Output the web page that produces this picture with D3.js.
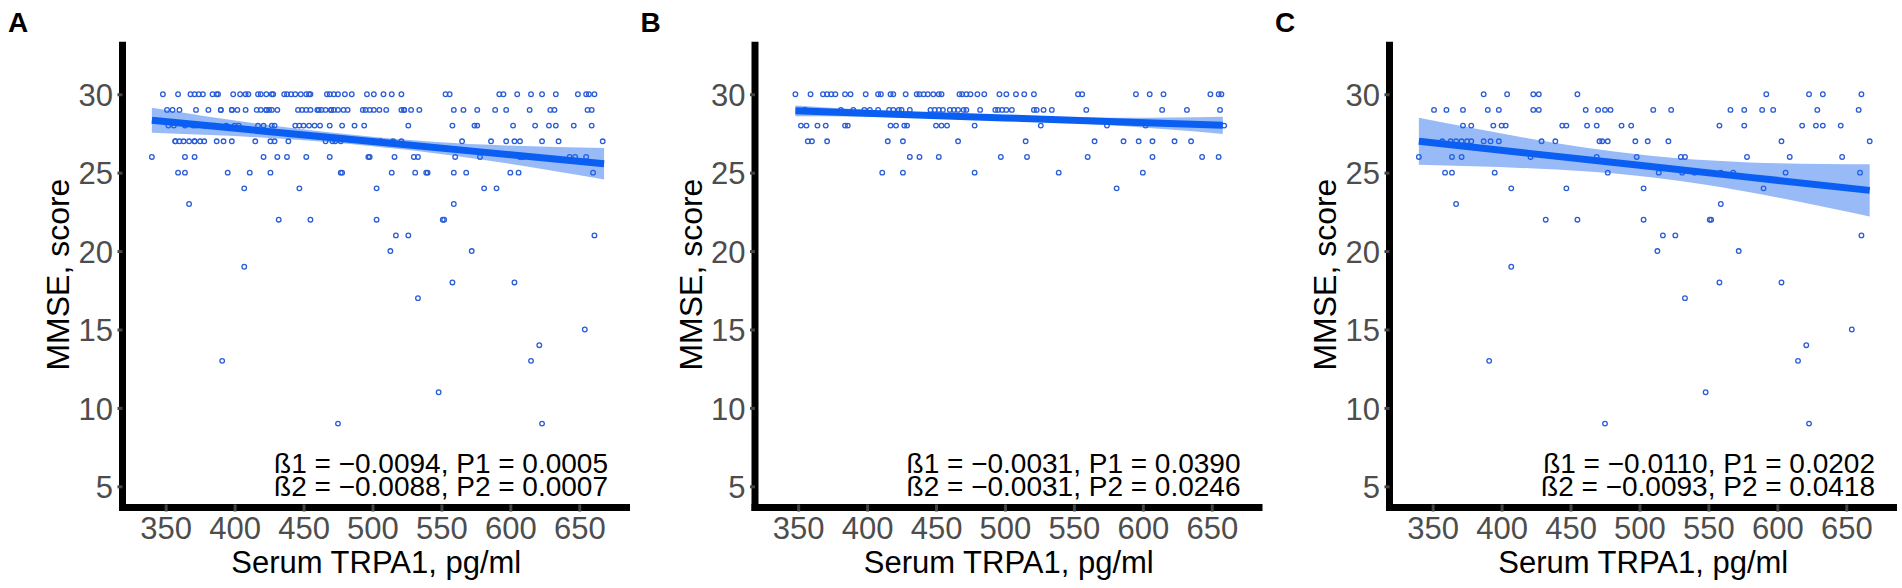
<!DOCTYPE html>
<html>
<head>
<meta charset="utf-8">
<script src="https://cdn.jsdelivr.net/npm/d3@7"></script>
<style>
  body { margin: 0; background: #fff; }
  svg { display: block; }
</style>
</head>
<body>
<svg id="chart" width="1902" height="588"></svg>
<script>
// ---------------- DATA ----------------
const xTickValues = [350, 400, 450, 500, 550, 600, 650];
const yTickValues = [5, 10, 15, 20, 25, 30];
const panelLetters = ["A", "B", "C"];
const xTitle = "Serum TRPA1, pg/ml";
const yTitle = "MMSE, score";
const statsLine1 = ["ß1 = \u22120.0094, P1 = 0.0005", "ß1 = \u22120.0031, P1 = 0.0390", "ß1 = \u22120.0110, P1 = 0.0202"];
const statsLine2 = ["ß2 = \u22120.0088, P2 = 0.0007", "ß2 = \u22120.0031, P2 = 0.0246", "ß2 = \u22120.0093, P2 = 0.0418"];

// Group shown in panel B: MMSE score rows and the serum TRPA1 values in each row
const bScores = [30, 29, 28, 27, 26, 25, 24];
const bTRPA1 = [
  [348, 359, 368, 371, 374, 377, 384, 388, 399, 408, 410, 417, 419, 428, 436, 438, 441, 444, 448, 452, 454, 467, 469, 472, 475, 480, 485, 496, 501, 508, 514, 521, 553, 556, 595, 605, 615, 649, 655, 657],
  [355, 381, 390, 398, 402, 408, 416, 419, 423, 425, 431, 446, 449, 452, 455, 460, 463, 466, 470, 472, 482, 493, 495, 498, 501, 505, 521, 523, 528, 534, 559, 614, 632, 656],
  [352, 356, 364, 370, 384, 386, 417, 421, 427, 429, 450, 454, 458, 478, 526, 574, 602, 659],
  [357, 360, 371, 415, 426, 466, 515, 565, 586, 597, 607, 623, 635],
  [431, 438, 452, 497, 516, 560, 607, 643, 655],
  [411, 426, 478, 539, 600],
  [581]
];

// Group shown in panel C
const cScores = [30, 29, 28, 27, 26, 25, 24, 23, 22, 21, 20, 19, 18, 17, 15, 14, 13, 11, 9];
const cTRPA1 = [
  [387, 404, 423, 427, 455, 592, 623, 633, 661],
  [351, 360, 372, 390, 398, 423, 427, 461, 470, 475, 479, 510, 523, 566, 576, 589, 597, 629, 659],
  [372, 378, 394, 400, 403, 444, 447, 462, 469, 487, 494, 558, 576, 618, 628, 633, 646],
  [357, 363, 367, 371, 375, 378, 387, 392, 398, 429, 439, 471, 473, 477, 497, 506, 521, 603, 667],
  [340, 364, 371, 421, 469, 498, 530, 533, 578, 609, 647],
  [359, 364, 395, 477, 514, 531, 540, 559, 568, 606, 660],
  [407, 447, 503, 590],
  [367, 559],
  [432, 455, 503, 551, 552],
  [517, 526, 661],
  [513, 572],
  [407],
  [558, 603],
  [533],
  [654],
  [621],
  [391, 615],
  [548],
  [475, 623]
];

// Fitted lines and confidence bands
const fitXA = [340, 420, 500, 580, 668];
const fitYA = [28.34, 27.66, 26.99, 26.31, 25.57];
const fitLoA = [27.54, 27.24, 26.69, 25.83, 24.57];
const fitHiA = [29.14, 28.08, 27.29, 26.79, 26.57];

const fitXB = [348, 425, 500, 580, 658];
const fitYB = [28.94, 28.71, 28.49, 28.25, 28.02];
const fitLoB = [28.60, 28.54, 28.37, 28.00, 27.47];
const fitHiB = [29.28, 28.88, 28.61, 28.50, 28.57];

const fitXC = [340, 420, 500, 580, 667];
const fitYC = [27.00, 26.23, 25.47, 24.70, 23.87];
const fitLoC = [25.50, 25.28, 24.79, 23.75, 22.21];
const fitHiC = [28.50, 27.18, 26.15, 25.65, 25.53];

// ---------------- BUILD ----------------
function rowsToPoints(scores, values) {
  const pts = [];
  scores.forEach((s, i) => values[i].forEach(v => pts.push({ x: v, y: s })));
  return pts;
}
const pointsB = rowsToPoints(bScores, bTRPA1);
const pointsC = rowsToPoints(cScores, cTRPA1);
const pointsA = pointsB.concat(pointsC); // panel A shows the whole sample (B and C together)

function fitTable(xs, ys, lo, hi) {
  return xs.map((xv, i) => ({ x: xv, y: ys[i], lo: lo[i], hi: hi[i] }));
}

const panels = [
  { pts: pointsA, fit: fitTable(fitXA, fitYA, fitLoA, fitHiA) },
  { pts: pointsB, fit: fitTable(fitXB, fitYB, fitLoB, fitHiB) },
  { pts: pointsC, fit: fitTable(fitXC, fitYC, fitLoC, fitHiC) }
];

const panelOffsets = [0, 632.5, 1267];
const FONT = "'Liberation Sans', Arial, Helvetica, sans-serif";
const plotLeft = 122.5, plotRight = 630, plotTop = 41.7, plotBottom = 507.5;

const xScale = d3.scaleLinear().domain([318.7, 686.8]).range([plotLeft, plotRight]);
const yScale = d3.scaleLinear().domain([3.65, 33.35]).range([plotBottom, plotTop]);

const svg = d3.select("#chart");
svg.append("rect").attr("width", 1902).attr("height", 588).attr("fill", "#fff");

const ptColor = "#2a5cd8";
const lineColor = "#0a5ef2";

panels.forEach((p, i) => {
  const g = svg.append("g").attr("transform", `translate(${panelOffsets[i]},0)`);

  // points
  g.append("g").selectAll("circle").data(p.pts).join("circle")
    .attr("cx", d => xScale(d.x)).attr("cy", d => yScale(d.y)).attr("r", 2.3)
    .attr("fill", "none").attr("stroke", ptColor).attr("stroke-width", 1.3);

  // confidence band
  const area = d3.area().x(d => xScale(d.x)).y0(d => yScale(d.lo)).y1(d => yScale(d.hi)).curve(d3.curveNatural);
  g.append("path").datum(p.fit).attr("d", area)
    .attr("fill", "#1a66ee").attr("fill-opacity", 0.45);

  // fitted line
  const line = d3.line().x(d => xScale(d.x)).y(d => yScale(d.y));
  g.append("path").datum(p.fit).attr("d", line)
    .attr("fill", "none").attr("stroke", lineColor).attr("stroke-width", 7);

  // axis lines
  g.append("line").attr("x1", plotLeft).attr("x2", plotLeft).attr("y1", plotTop).attr("y2", plotBottom + 3.5)
    .attr("stroke", "#000").attr("stroke-width", 7);
  g.append("line").attr("x1", plotLeft - 3.5).attr("x2", plotRight).attr("y1", plotBottom).attr("y2", plotBottom)
    .attr("stroke", "#000").attr("stroke-width", 7);

  // axes (ticks + labels)
  const xa = g.append("g").attr("transform", `translate(0,${plotBottom})`)
    .call(d3.axisBottom(xScale).tickValues(xTickValues).tickSize(4).tickSizeOuter(0));
  xa.select(".domain").remove();
  const ya = g.append("g").attr("transform", `translate(${plotLeft},0)`)
    .call(d3.axisLeft(yScale).tickValues(yTickValues).tickSize(4).tickSizeOuter(0));
  ya.select(".domain").remove();

  xa.selectAll(".tick line").attr("y1", -3).attr("y2", 4).attr("stroke", "#444").attr("stroke-width", 3);
  ya.selectAll(".tick line").attr("x1", 0).attr("x2", -5).attr("stroke", "#444").attr("stroke-width", 3);
  xa.selectAll(".tick text").attr("y", 9).attr("dy", "0.71em")
    .attr("font-family", FONT).attr("font-size", 31).attr("fill", "#4d4d4d");
  ya.selectAll(".tick text").attr("x", -9.5).attr("dy", "0.36em")
    .attr("font-family", FONT).attr("font-size", 31).attr("fill", "#4d4d4d");

  // titles
  g.append("text").attr("x", (plotLeft + plotRight) / 2).attr("y", 573.3).attr("text-anchor", "middle")
    .attr("font-family", FONT).attr("font-size", 31).attr("fill", "#000").text(xTitle);
  g.append("text").attr("transform", `translate(69,${(plotTop + plotBottom) / 2}) rotate(-90)`)
    .attr("text-anchor", "middle")
    .attr("font-family", FONT).attr("font-size", 32).attr("fill", "#000").text(yTitle);

  // statistics (one text block, two lines set tightly as in the reference)
  const stats = g.append("text").attr("text-anchor", "end")
    .attr("font-family", FONT).attr("font-size", 28).attr("fill", "#000");
  stats.append("tspan").attr("x", 608).attr("y", 473.3).text(statsLine1[i]);
  stats.append("tspan").attr("x", 608).attr("y", 495.7).text(statsLine2[i]);

  // panel letter
  g.append("text").attr("x", 8).attr("y", 31.7)
    .attr("font-family", FONT).attr("font-size", 28).attr("font-weight", "bold").attr("fill", "#000")
    .text(panelLetters[i]);
});
</script>
</body>
</html>
